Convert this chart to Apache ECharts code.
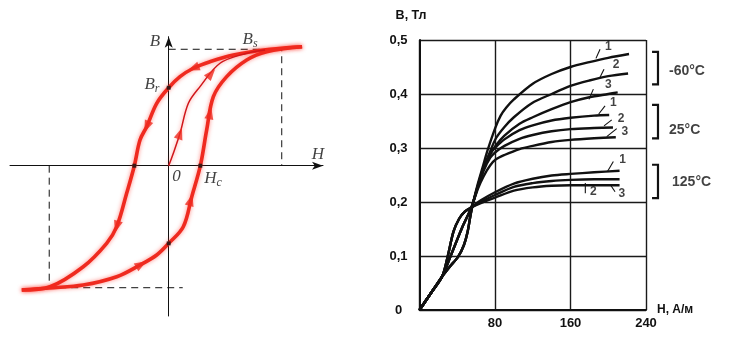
<!DOCTYPE html>
<html>
<head>
<meta charset="utf-8">
<script src="https://cdn.jsdelivr.net/npm/echarts@6/dist/echarts.min.js"></script>
<style>
  html, body { margin: 0; padding: 0; background: #fff; }
  #chart { width: 748px; height: 340px; }
</style>
</head>
<body>
<div id="chart"></div>
<script>
// ---------- Hysteresis loop (normalised units: Hs = 1, Bs = 1) ----------
const loopDown = [
  [1.18, 1.022], [0.896, 1.0], [0.572, 0.951], [0.365, 0.893], [0.218, 0.837],
  [0.1, 0.765], [0, 0.67], [-0.106, 0.536], [-0.195, 0.335], [-0.254, 0.221],
  [-0.304, 0], [-0.372, -0.237], [-0.46, -0.524], [-0.549, -0.667],
  [-0.756, -0.868], [-1.05, -1.04], [-1.30, -1.068]
];
const loopUp = [
  [-1.30, -1.068], [-1.057, -1.05], [-0.756, -1.025], [-0.46, -0.954],
  [-0.254, -0.853], [-0.106, -0.767], [0, -0.667], [0.129, -0.524],
  [0.204, -0.266], [0.28, 0], [0.336, 0.307], [0.395, 0.593], [0.513, 0.765],
  [0.69, 0.908], [0.867, 0.979], [1.18, 1.022]
];
const initialCurve = [
  [0, 0], [0.041, 0.107], [0.1, 0.278], [0.174, 0.536], [0.277, 0.679],
  [0.454, 0.88], [0.69, 0.966], [0.852, 0.994]
];
const guideTop = [[0, 1], [1, 1], [1, 0]];
const guideBottom = [[-1.057, 0], [-1.057, -1.048], [0.124, -1.048]];
const axisDots = [[0, 0.67], [0, -0.667], [0.28, 0], [-0.304, 0]];
const loopArrows = [
  { branch: 'down', at: [0.218, 0.837] },
  { branch: 'down', at: [-0.195, 0.335] },
  { branch: 'down', at: [-0.46, -0.524] },
  { branch: 'up', at: [-0.239, -0.853] },
  { branch: 'up', at: [0.195, -0.295] },
  { branch: 'up', at: [0.37, 0.45] },
  { branch: 'initial', at: [0.1, 0.278] },
  { branch: 'initial', at: [0.374, 0.794] }
];
const loopLabels = [
  { main: 'B', sub: '', at: [-0.121, 1.063] },
  { main: 'B', sub: 's', at: [0.72, 1.08] },
  { main: 'B', sub: 'r', at: [-0.148, 0.693] },
  { main: 'H', sub: '', at: [1.32, 0.092] },
  { main: '0', sub: '', at: [0.069, -0.097] },
  { main: 'H', sub: 'c', at: [0.392, -0.11] }
];

// ---------- Magnetisation curves B (Тл) vs H (А/м) ----------
const startSegment = [[0, 0], [12, 0.031], [24, 0.062]];
const lens125 = [[30, 0.1], [36, 0.145], [42, 0.169], [48, 0.182], [55, 0.19]];
const lens25 = [[33, 0.1], [45, 0.152], [55, 0.19]];
const lensM60 = [[32, 0.08], [41, 0.099], [47, 0.12], [51, 0.145], [54, 0.175]];

const tailM60_1 = [[57, 0.2], [62, 0.235], [67, 0.265], [72, 0.295], [80, 0.336], [86, 0.36], [92, 0.375], [100, 0.39], [120, 0.419], [140, 0.437], [160, 0.45], [180, 0.459], [200, 0.467], [222, 0.474]];
const tailM60_2 = [[57, 0.2], [62, 0.232], [67, 0.26], [74, 0.29], [81, 0.318], [90, 0.339], [100, 0.357], [119, 0.383], [140, 0.4], [160, 0.415], [180, 0.425], [200, 0.433], [221, 0.438]];
const tailM60_3 = [[57, 0.2], [62, 0.23], [67, 0.257], [74, 0.285], [81, 0.305], [90, 0.323], [106, 0.345], [120, 0.357], [140, 0.372], [160, 0.385], [180, 0.394], [200, 0.4], [210, 0.403]];
const tail25_1 = [[62, 0.23], [68, 0.262], [75, 0.29], [81, 0.302], [90, 0.316], [106, 0.333], [120, 0.342], [140, 0.351], [160, 0.356], [185, 0.36], [201, 0.361]];
const tail25_2 = [[62, 0.228], [68, 0.258], [75, 0.282], [81, 0.293], [90, 0.304], [106, 0.317], [120, 0.324], [140, 0.331], [160, 0.335], [185, 0.337], [205, 0.338]];
const tail25_3 = [[62, 0.225], [68, 0.248], [75, 0.268], [81, 0.279], [90, 0.287], [106, 0.298], [120, 0.304], [140, 0.311], [160, 0.315], [185, 0.318], [208, 0.32]];
const tail125_1 = [[65, 0.203], [80, 0.218], [100, 0.234], [120, 0.243], [140, 0.249], [160, 0.252], [185, 0.255], [212, 0.258]];
const tail125_2 = [[65, 0.2], [80, 0.213], [100, 0.228], [120, 0.235], [140, 0.239], [160, 0.241], [185, 0.242], [212, 0.242]];
const tail125_3 = [[65, 0.198], [80, 0.208], [100, 0.221], [120, 0.227], [140, 0.23], [160, 0.231], [185, 0.231], [212, 0.231]];

const curves = [
  startSegment.concat(lensM60, tailM60_1),
  startSegment.concat(lensM60, tailM60_2),
  startSegment.concat(lensM60, tailM60_3),
  startSegment.concat(lens25, tail25_1),
  startSegment.concat(lens25, tail25_2),
  startSegment.concat(lens25, tail25_3),
  startSegment.concat(lens125, tail125_1),
  startSegment.concat(lens125, tail125_2),
  startSegment.concat(lens125, tail125_3)
];

const curveNumbers = [
  { text: '1', at: [200, 0.488], lead: [[187, 0.466], [191.3, 0.483]] },
  { text: '2', at: [208.2, 0.454], lead: [[191.3, 0.431], [195.5, 0.446]] },
  { text: '3', at: [200, 0.417], lead: [[179.6, 0.39], [184.2, 0.409]] },
  { text: '1', at: [205.4, 0.384], lead: [[189.9, 0.363], [196.6, 0.378]] },
  { text: '2', at: [213.5, 0.355], lead: [[195.5, 0.341], [203.7, 0.352]] },
  { text: '3', at: [217.7, 0.33], lead: [[198.4, 0.321], [209, 0.336]] },
  { text: '1', at: [215.3, 0.279], lead: [[199, 0.256], [205.4, 0.275]] },
  { text: '2', at: [184.2, 0.219], lead: [[175.7, 0.235], [175.7, 0.216]] },
  { text: '3', at: [214.3, 0.216], lead: [[202.6, 0.231], [207.2, 0.219]] }
];
const tempGroups = [
  { text: '-60°C', top: 0.478, bottom: 0.418, labelAt: [264.4, 0.443] },
  { text: '25°C', top: 0.38, bottom: 0.318, labelAt: [264.4, 0.333] },
  { text: '125°C', top: 0.269, bottom: 0.207, labelAt: [267.6, 0.236] }
];
const bracketX = [246.4, 252.7];
const hTicks = { min: 0, max: 240, step: 80 };
const bTicks = { min: 0, max: 0.5, step: 0.1 };

// ---------- styles ----------
const RED = '#ef2a1f';
const INK = '#111';
const sansBold = { fontFamily: 'Liberation Sans, Arial, sans-serif', fontWeight: 'bold', color: INK };

function redLine(data, width, color) {
  return {
    type: 'line', xAxisIndex: 0, yAxisIndex: 0, data: data, smooth: 0.35,
    showSymbol: false, silent: true, z: 3,
    lineStyle: { color: color || RED, width: width, shadowBlur: 4, shadowColor: 'rgba(255,40,30,0.55)' }
  };
}
function dashed(data) {
  return {
    type: 'line', xAxisIndex: 0, yAxisIndex: 0, data: data, showSymbol: false, silent: true, z: 2,
    lineStyle: { color: INK, width: 1, type: [7, 5] }
  };
}

const series = [
  dashed(guideTop),
  dashed(guideBottom),
  redLine(loopDown, 3.6),
  redLine(loopUp, 3.6),
  redLine(initialCurve, 1.5, '#d0161a'),
  {
    type: 'scatter', xAxisIndex: 0, yAxisIndex: 0, data: axisDots, symbol: 'rect',
    symbolSize: 4, itemStyle: { color: INK }, z: 5, silent: true
  },
  {
    id: 'arrows', type: 'scatter', xAxisIndex: 0, yAxisIndex: 0, data: [], symbol: 'triangle',
    symbolSize: [9, 12], itemStyle: { color: RED }, z: 6, silent: true
  },
  {
    type: 'scatter', xAxisIndex: 0, yAxisIndex: 0, symbolSize: 0, silent: true, clip: false,
    data: loopLabels.map(l => ({ value: l.at, main: l.main, sub: l.sub })),
    label: {
      show: true, position: 'inside',
      formatter: p => '{m|' + p.data.main + '}' + (p.data.sub ? '{s|' + p.data.sub + '}' : ''),
      rich: {
        m: { fontFamily: 'Liberation Serif, serif', fontStyle: 'italic', fontSize: 17, color: INK, lineHeight: 20 },
        s: { fontFamily: 'Liberation Serif, serif', fontStyle: 'italic', fontSize: 12, color: INK, lineHeight: 8, verticalAlign: 'bottom' }
      }
    }
  }
];

curves.forEach(c => series.push({
  type: 'line', xAxisIndex: 1, yAxisIndex: 1, data: c, smooth: 0.3, showSymbol: false,
  silent: true, z: 3, lineStyle: { color: INK, width: 2.4 }
}));
curveNumbers.forEach(n => series.push({
  type: 'line', xAxisIndex: 1, yAxisIndex: 1, data: n.lead, showSymbol: false, silent: true,
  clip: false, lineStyle: { color: INK, width: 1.1 }
}));
series.push({
  type: 'scatter', xAxisIndex: 1, yAxisIndex: 1, symbolSize: 0, silent: true, clip: false,
  data: curveNumbers.map(n => ({ value: n.at, name: n.text })),
  label: Object.assign({ show: true, position: 'inside', formatter: '{b}', fontSize: 12 }, sansBold)
});
series.push({
  type: 'scatter', xAxisIndex: 1, yAxisIndex: 1, symbolSize: 0, silent: true, clip: false,
  data: tempGroups.map(g => ({ value: g.labelAt, name: g.text })),
  label: Object.assign({ show: true, position: 'inside', align: 'left', formatter: '{b}', fontSize: 14 }, sansBold)
});

const hiddenAxisBits = { axisTick: { show: false }, axisLabel: { show: false }, splitLine: { show: false } };
const arrowAxisLine = {
  show: true, onZero: true, symbol: ['none', 'arrow'], symbolSize: [6, 11],
  lineStyle: { color: INK, width: 1 }
};

const option = {
  animation: false,
  backgroundColor: '#fff',
  grid: [
    { left: 10, width: 313, top: 36.7, height: 279.3 },
    { left: 419.5, width: 226.5, top: 40, height: 270 }
  ],
  xAxis: [
    Object.assign({ type: 'value', gridIndex: 0, min: -1.404, max: 1.365, axisLine: arrowAxisLine }, hiddenAxisBits),
    {
      type: 'value', gridIndex: 1, min: hTicks.min, max: hTicks.max, interval: hTicks.step,
      axisLine: { show: true, onZero: false, lineStyle: { color: INK, width: 2 } },
      axisTick: { show: false },
      axisLabel: Object.assign({ showMinLabel: false, margin: 7, fontSize: 13 }, sansBold),
      splitLine: { show: true, lineStyle: { color: '#1a1a1a', width: 1.4 } },
      name: 'H, А/м', nameLocation: 'end', nameGap: 11,
      nameTextStyle: Object.assign({ fontSize: 12, verticalAlign: 'middle', padding: [0, 0, 6, 0] }, sansBold)
    }
  ],
  yAxis: [
    Object.assign({ type: 'value', gridIndex: 0, min: -1.291, max: 1.108, axisLine: arrowAxisLine }, hiddenAxisBits),
    {
      type: 'value', gridIndex: 1, min: bTicks.min, max: bTicks.max, interval: bTicks.step,
      axisLine: { show: true, onZero: false, lineStyle: { color: INK, width: 2 } },
      axisTick: { show: false },
      axisLabel: Object.assign({
        margin: 21, align: 'center', fontSize: 13,
        formatter: v => v === 0 ? '0' : v.toFixed(1).replace('.', ',')
      }, sansBold),
      splitLine: { show: true, lineStyle: { color: '#1a1a1a', width: 1.3 } },
      name: 'B, Тл', nameLocation: 'end', nameGap: 18,
      nameTextStyle: Object.assign({ fontSize: 12.5, align: 'center', padding: [0, 17, 0, 0] }, sansBold)
    }
  ],
  series: series
};

const chart = echarts.init(document.getElementById('chart'), null, { renderer: 'canvas' });
chart.setOption(option);

// Place direction arrows on the loop branches, oriented along the branch.
const branches = { down: loopDown, up: loopUp, initial: initialCurve };
function toPx(p) { return chart.convertToPixel({ xAxisIndex: 0, yAxisIndex: 0 }, p); }
const arrowData = loopArrows.map(a => {
  const pts = branches[a.branch].map(toPx);
  const q = toPx(a.at);
  let best = null;
  for (let i = 0; i < pts.length - 1; i++) {
    const p0 = pts[i], p1 = pts[i + 1];
    const dx = p1[0] - p0[0], dy = p1[1] - p0[1];
    const len2 = dx * dx + dy * dy || 1;
    let t = ((q[0] - p0[0]) * dx + (q[1] - p0[1]) * dy) / len2;
    t = Math.max(0, Math.min(1, t));
    const px = p0[0] + t * dx, py = p0[1] + t * dy;
    const d = (px - q[0]) ** 2 + (py - q[1]) ** 2;
    if (!best || d < best.d) best = { d: d, px: px, py: py, dx: dx, dy: dy };
  }
  const rot = Math.atan2(-best.dx, -best.dy) * 180 / Math.PI;
  const v = chart.convertFromPixel({ xAxisIndex: 0, yAxisIndex: 0 }, [best.px, best.py]);
  return { value: v, symbolRotate: rot };
});

// Temperature-group brackets beside the plot, positioned through the B/H scales.
function toPx2(p) { return chart.convertToPixel({ xAxisIndex: 1, yAxisIndex: 1 }, p); }
const bracketGraphics = tempGroups.map(g => ({
  type: 'polyline', silent: true, z: 10,
  shape: { points: [[bracketX[0], g.top], [bracketX[1], g.top], [bracketX[1], g.bottom], [bracketX[0], g.bottom]].map(toPx2) },
  style: { stroke: INK, lineWidth: 2.2, fill: null }
}));

chart.setOption({ series: [{ id: 'arrows', data: arrowData }], graphic: bracketGraphics });
</script>
</body>
</html>
